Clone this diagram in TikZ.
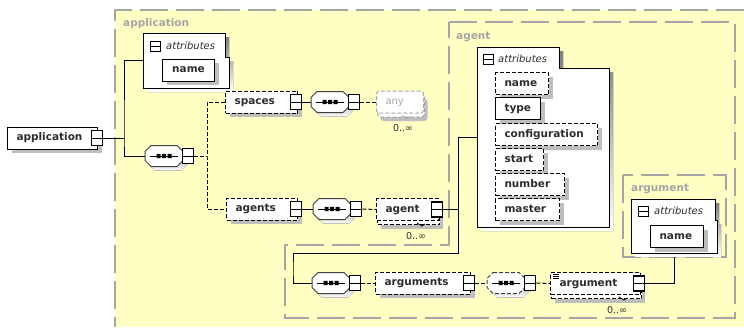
\documentclass[tikz,border=0pt]{standalone}
\usepackage{fontspec}
\setmainfont{DejaVu Sans}
\usetikzlibrary{shadows}
\definecolor{grpfill}{RGB}{255,255,196}
\definecolor{grpline}{RGB}{165,165,165}
\definecolor{shade}{RGB}{190,190,190}
\definecolor{ink}{RGB}{45,45,45}
\pgfdeclarelayer{grp}
\pgfdeclarelayer{lines}
\pgfsetlayers{grp,lines,main}
\tikzset{
  bold/.style={font=\bfseries\fontsize{10.5}{12}\selectfont},
  grp/.style={draw=grpline, line width=1.3pt, dash pattern=on 28pt off 8pt},
  grplabel/.style={bold, text=grpline, anchor=west, inner sep=0pt},
  opt/.style={dash pattern=on 4pt off 2pt},
  single/.style={drop shadow={shadow xshift=4pt, shadow yshift=-4pt, fill=shade, opacity=1}},
  multi/.style={drop shadow={shadow xshift=4pt, shadow yshift=-8pt, fill=shade, opacity=1},
    general shadow={shadow xshift=1pt, shadow yshift=-4pt, draw=#1, fill=white, opt, line width=1pt}},
  multi/.default=black,
  elem/.style={draw=black, fill=white, line width=1pt, text width=#1, align=left,
    inner xsep=9pt, inner ysep=0pt, minimum height=22pt, text height=8pt, text depth=2.5pt,
    anchor=west, bold, text=ink},
  anyel/.style={elem=#1, draw=grpline, rounded corners=3pt, text=grpline,
    font=\fontsize{10}{12}\selectfont},
  expbox/.style={draw=black, fill=white, line width=1.2pt, minimum width=11pt,
    minimum height=15pt, inner sep=0pt,
    path picture={\draw[line width=1pt] (path picture bounding box.west) -- (path picture bounding box.east);}},
  attricon/.style={draw=black, fill=white, line width=1pt, minimum width=10pt,
    minimum height=10pt, inner sep=0pt,
    path picture={\draw[line width=1pt] (path picture bounding box.west) -- (path picture bounding box.east);}},
  attrtext/.style={anchor=west, inner sep=0pt, text=ink, font=\itshape\fontsize{10}{12}\selectfont},
  seqbody/.style={draw=black!75, fill=white, line width=1pt},
  occurs/.style={inner sep=0pt, text=ink, font=\fontsize{9.5}{11}\selectfont},
  conn/.style={draw=black, line width=1pt},
  tick/.style={line width=0.8pt},
}
% attribute panel with a tab: name, left, top, tab right, tab bottom, right, bottom
\newcommand\attrpanel[7]{%
  \fill[shade] (#2+4,#3+4) -- (#4+4,#3+4) -- (#4+4,#5+4) -- (#6+4,#5+4) -- (#6+4,#7+4) -- (#2+4,#7+4) -- cycle;
  \draw[fill=white, line width=1pt] (#2,#3) -- (#4,#3) -- (#4,#5) -- (#6,#5) -- (#6,#7) -- (#2,#7) -- cycle;
  \node[inner sep=0pt, minimum width=#6-#2, minimum height=#7-#3, anchor=north west] (#1) at (#2,#3) {};
}
% octagonal sequence compositor: options, name, centre x, centre y
\newcommand\seqnode[4][]{%
  \fill[shade, shift={(#3+4,#4+4)}] (-13,-10.5) -- (13,-10.5) -- (19,-4.5) -- (19,4.5) -- (13,10.5) -- (-13,10.5) -- (-19,4.5) -- (-19,-4.5) -- cycle;
  \draw[seqbody, shift={(#3,#4)}, #1] (-13,-10.5) -- (13,-10.5) -- (19,-4.5) -- (19,4.5) -- (13,10.5) -- (-13,10.5) -- (-19,4.5) -- (-19,-4.5) -- cycle;
  \draw[line width=1pt, shift={(#3,#4)}] (-14,0) -- (14,0);
  \fill[shift={(#3,#4)}] (-7.5,-2.2) rectangle (-3.5,2.2) (-2,-2.2) rectangle (2,2.2) (3.5,-2.2) rectangle (7.5,2.2);
  \node[inner sep=0pt, minimum width=38pt, minimum height=21pt] (#2) at (#3,#4) {};
}
% small repetition mark under a repeated element: node, colour
\newcommand\repmark[2]{%
  \draw[tick, draw=#2] ([shift={(-22pt,-2pt)}]#1.south east) -- ++(5,3) -- ++(3,-2);
}
\begin{document}
\begin{tikzpicture}[x=1pt, y=-1pt]
\useasboundingbox (0,0) rectangle (744,327);

% nested group areas
\begin{pgfonlayer}{grp}
  \fill[white] (0,0) rectangle (744,327);
  \fill[grpfill] (115,10) rectangle (744,327);
  \draw[grp] (744,10) -- (115,10) -- (115,327);
  \filldraw[grp, fill=grpfill] (449,22) -- (735,22) -- (735,318) -- (285,318) -- (285,245) -- (449,245) -- cycle;
  \filldraw[grp, fill=grpfill] (623,175) rectangle (726,257);
\end{pgfonlayer}
\node[grplabel] (lblapp) at (123,24) {application};
\node[grplabel] (lblagent) at (456,37) {agent};
\node[grplabel] (lblarg) at (631,189) {argument};

% root element
\node[elem=72pt, single] (root) at (7,138) {application};
\node[expbox] (rootx) at ([xshift=-1pt]root.east) {};

% attributes of application
\attrpanel{appattr}{143}{33}{225}{57}{229}{88}
\node[attricon] (appicon) at (155,46) {};
\node[attrtext] (appattrlbl) at (166,46) {attributes};
\node[elem=34pt, single, align=center] (appname) at (162,70) {name};

% first sequence
\seqnode{seq1}{164}{156}
\node[expbox, anchor=west] (seq1x) at ([xshift=-1pt]seq1.east) {};

% spaces branch
\node[elem=54pt, single, opt] (spaces) at (225,102) {spaces};
\node[expbox] (spacesx) at ([xshift=-2pt]spaces.east) {};
\seqnode{seq2}{330}{102}
\node[expbox, anchor=west] (seq2x) at ([xshift=-1pt]seq2.east) {};
\node[anyel=29pt, multi=grpline, opt] (anyel) at (376,102) {any};
\repmark{anyel}{grpline}
\node[occurs] (anyocc) at (403,128) {0..∞};

% agents branch
\node[elem=53pt, single, opt] (agents) at (226,209) {agents};
\node[expbox] (agentsx) at ([xshift=-2pt]agents.east) {};
\seqnode{seq3}{332}{209}
\node[expbox, anchor=west] (seq3x) at ([xshift=-1pt]seq3.east) {};
\node[elem=44pt, multi, opt] (agentel) at (376,209.5) {agent};
\repmark{agentel}{black}
\node[expbox] (agentelx) at ([xshift=-2pt]agentel.east) {};
\node[occurs] (agentocc) at (416,236) {0..∞};

% attributes of agent
\attrpanel{agattr}{477}{47}{559}{68}{609}{227}
\node[attricon] (agicon) at (488,59) {};
\node[attrtext] (agattrlbl) at (498,59) {attributes};
\node[elem=35pt, single, opt] (agname) at (495,83.5) {name};
\node[elem=27pt, single] (agtype) at (495,108.5) {type};
\node[elem=84pt, single, opt] (agconf) at (495,134.5) {configuration};
\node[elem=30pt, single, opt] (agstart) at (495,159.5) {start};
\node[elem=51pt, single, opt] (agnumber) at (495,184.5) {number};
\node[elem=46pt, single, opt] (agmaster) at (495,209.5) {master};

% arguments of agent
\seqnode{seq4}{331}{283}
\node[expbox, anchor=west] (seq4x) at ([xshift=-1pt]seq4.east) {};
\node[elem=77pt, single, opt] (arguments) at (375,283) {arguments};
\node[expbox] (argumentsx) at ([xshift=-2pt]arguments.east) {};
\seqnode[opt]{seq5}{506}{283}
\node[expbox, anchor=west] (seq5x) at ([xshift=-1pt]seq5.east) {};
\node[elem=72pt, multi, opt] (argel) at (550,283.5) {argument};
\repmark{argel}{black}
\node[expbox] (argelx) at ([xshift=-2pt]argel.east) {};
\foreach \k in {0,1,2}
  \draw[line width=0.8pt] ([shift={(2.5pt,-2pt-2*\k pt)}]argel.north west) -- ++(6,0);
\node[occurs] (argocc) at (617,310) {0..∞};

% attributes of argument
\attrpanel{argattr}{631}{199}{715}{220}{717}{253}
\node[attricon] (argicon) at (643,211) {};
\node[attrtext] (argattrlbl) at (654,211) {attributes};
\node[elem=35pt, single] (argname) at (650,236.5) {name};

% connectors
\coordinate (j1) at (124,138);
\coordinate (j2) at (207,156);
\coordinate (j3) at (458,253);
\coordinate (j4) at (293,270);
\begin{pgfonlayer}{lines}
  \draw[conn] (rootx.east) -- (j1);
  \draw[conn] (appattr.west) -| (j1) |- (seq1.west);
  \draw[conn, opt] (seq1x.east) -- (j2);
  \draw[conn, opt] (spaces.west) -| (j2) |- (agents.west);
  \draw[conn] (spacesx.east) -- (seq2.west);
  \draw[conn, opt] (seq2x.east) -- (anyel.west);
  \draw[conn] (agentsx.east) -- (seq3.west);
  \draw[conn, opt] (seq3x.east) -- (agentel.west);
  \draw[conn] (agentelx.east) -- (agentelx.east -| j3);
  \draw[conn] (agattr.west) -| (j3) -| (j4) |- (seq4.west);
  \draw[conn, opt] (seq4x.east) -- (arguments.west);
  \draw[conn, opt] (argumentsx.east) -- (seq5.west);
  \draw[conn, opt] (seq5x.east) -- (argel.west);
  \draw[conn] (argelx.east) -| (argattr.south);
\end{pgfonlayer}
\end{tikzpicture}
\end{document}
